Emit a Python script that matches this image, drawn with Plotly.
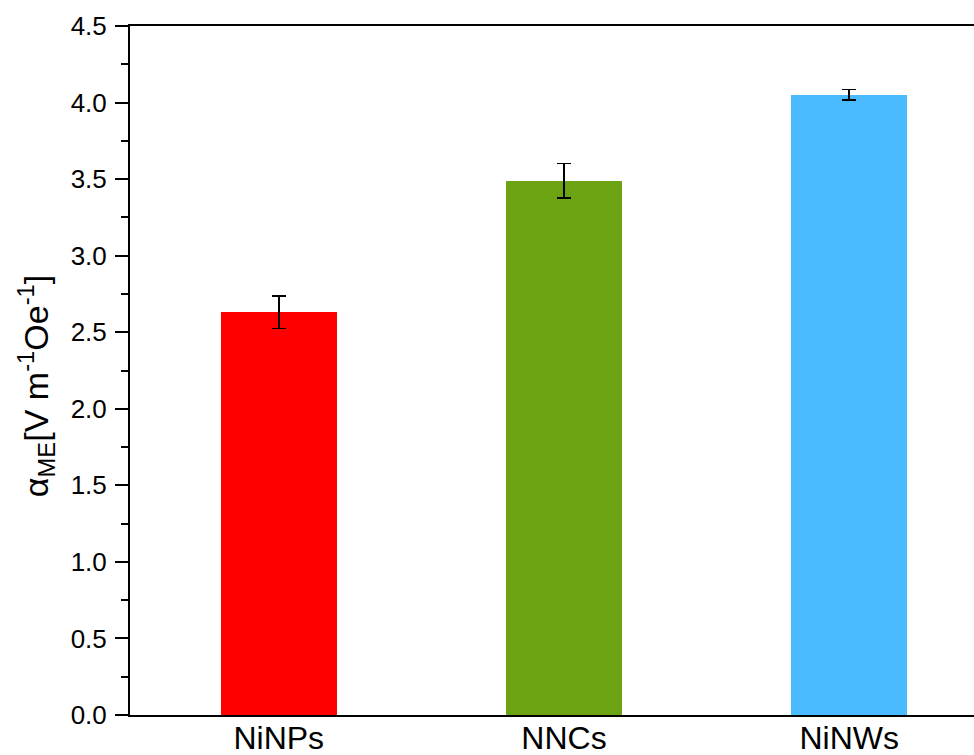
import plotly.graph_objects as go

categories = ["NiNPs", "NNCs", "NiNWs"]
values = [2.63, 3.49, 4.05]
errors = [0.105, 0.113, 0.034]
colors = ["#FF0000", "#6BA312", "#4ABBFF"]
y_title = "α<sub>ME</sub>[V m<sup>-1</sup>Oe<sup>-1</sup>]"

fig = go.Figure()
fig.add_trace(go.Bar(
    x=categories, y=values,
    marker=dict(color=colors, line=dict(width=0)),
    width=0.407,
    error_y=dict(type="data", array=errors, visible=True,
                 color="black", thickness=1.5, width=7),
))

font_family = "Liberation Sans, Arial, sans-serif"
fig.update_layout(
    width=974, height=755,
    margin=dict(l=130, r=0, t=26, b=40),
    paper_bgcolor="white", plot_bgcolor="white",
    showlegend=False,
    font=dict(family=font_family, color="black"),
    bargap=0,
)
fig.update_xaxes(
    type="category",
    range=[-0.5215, 2.4374],
    showline=True, linecolor="black", linewidth=2, mirror=True,
    ticks="", showgrid=False, zeroline=False,
    ticklabelstandoff=-6,
    tickfont=dict(size=32, family=font_family, color="black"),
)
fig.update_yaxes(
    range=[0, 4.5], dtick=0.5, tick0=0, tickformat=".1f",
    showline=True, linecolor="black", linewidth=2, mirror=False,
    ticks="outside", ticklen=13, tickwidth=2, tickcolor="black",
    minor=dict(dtick=0.25, ticks="outside", ticklen=7, tickwidth=2, tickcolor="black", showgrid=False),
    showgrid=False, zeroline=False,
    ticklabelstandoff=3,
    tickfont=dict(size=26, family=font_family, color="black"),
)
fig.add_annotation(
    text=y_title, xref="paper", yref="paper", x=-0.112, y=0.478,
    xanchor="center", yanchor="middle", textangle=-90, showarrow=False,
    font=dict(size=34, family=font_family, color="black"),
)

fig.write_html(
    "out.html",
    config={"displayModeBar": False},
    post_script="document.body.style.margin='0';document.body.style.overflow='hidden';",
)
